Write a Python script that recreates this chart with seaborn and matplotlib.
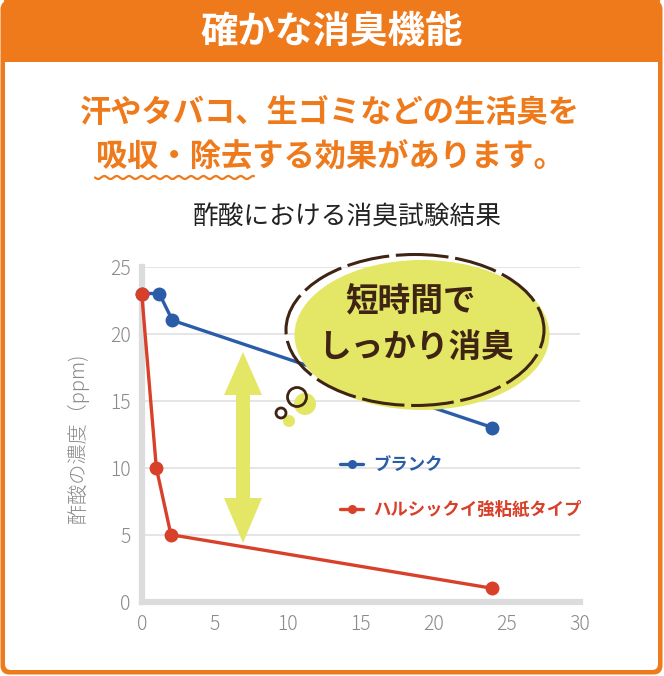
import numpy as np
import pandas as pd
import matplotlib
matplotlib.use("Agg")
import matplotlib.pyplot as plt
import matplotlib.patches as mpatches
import matplotlib.transforms as mtransforms
from matplotlib.lines import Line2D
import seaborn as sns

# ---------------- data ----------------
series_names = ["ブランク", "ハルシックイ強粘紙タイプ"]
blank_hours = [0, 1.2, 2.1, 24]
blank_ppm = [23, 23, 21, 13]
hs_hours = [0, 1, 2, 24]
hs_ppm = [23, 10, 5, 1]
x_ticks = [0, 5, 10, 15, 20, 25, 30]
y_ticks = [0, 5, 10, 15, 20, 25]
title_text = "確かな消臭機能"
subtitle_lines = ["汗やタバコ、生ゴミなどの生活臭を", "吸収・除去する効果があります。"]
chart_title = "酢酸における消臭試験結果"
ylabel_text = "酢酸の濃度（ppm)"
bubble_lines = ["短時間で", "しっかり消臭"]

df = pd.DataFrame({
    "hours": blank_hours + hs_hours,
    "ppm": blank_ppm + hs_ppm,
    "series": [series_names[0]] * len(blank_hours) + [series_names[1]] * len(hs_hours),
})

# ---------------- style ----------------
sns.set_style("white")
plt.rcParams["font.family"] = ["Noto Sans CJK JP", "DejaVu Sans"]

ORANGE = "#ee7a1c"
BLUE = "#2b5ca8"
RED = "#d9402a"
YELLOW = "#e4e766"
BROWN = "#3f2414"
GRAY = "#8a8a8a"

W, H = 664, 676
fig = plt.figure(figsize=(W / 100, H / 100), dpi=100)
fig.patch.set_facecolor("white")
px = mtransforms.Affine2D().scale(1 / W, -1 / H).translate(0, 1) + fig.transFigure

# frame
outer = mpatches.FancyBboxPatch((0.5, 0.5), 662, 674, boxstyle="round,pad=0,rounding_size=9",
                                transform=px, facecolor=ORANGE, edgecolor="none", zorder=-3)
inner = mpatches.FancyBboxPatch((5, 50), 653, 620, boxstyle="round,pad=0,rounding_size=6",
                                transform=px, facecolor="white", edgecolor="none", zorder=-2)
header = mpatches.Rectangle((4, 0), 656, 62, transform=px, facecolor=ORANGE,
                            edgecolor="none", zorder=-1)
for p in (outer, inner, header):
    fig.add_artist(p)

fig.text(332, 31, title_text, transform=px, ha="center", va="center", color="white",
         fontsize=27, fontweight="bold")
fig.text(330, 113, subtitle_lines[0], transform=px, ha="center", va="center", color=ORANGE,
         fontsize=22.5, fontweight="bold")
fig.text(330, 158, subtitle_lines[1], transform=px, ha="center", va="center", color=ORANGE,
         fontsize=22.5, fontweight="bold")
# wavy underline
wx = np.linspace(95, 254, 400)
wy = 177.5 + 1.5 * np.sin((wx - 95) / 12.4 * 2 * np.pi)
fig.add_artist(Line2D(wx, wy, transform=px, color=ORANGE, lw=1.6))

fig.text(347, 218, chart_title, transform=px, ha="center", va="center", color="#222222",
         fontsize=18.5)

# ---------------- axes ----------------
x0, x1 = 141.7, 580.0
y0, y1 = 601.7, 266.7
ax = fig.add_axes([x0 / W, 1 - y0 / H, (x1 - x0) / W, (y0 - y1) / H])
ax.set_facecolor("none")

sns.lineplot(data=df, x="hours", y="ppm", hue="series", palette=[BLUE, RED],
             marker="o", markersize=10, markeredgewidth=0, linewidth=2.4,
             ax=ax, clip_on=False, zorder=3, legend=False)

ax.set_xlim(0, 30)
ax.set_ylim(0, 25)
ax.set_xticks(x_ticks)
ax.set_yticks(y_ticks)
ax.set_xticklabels([str(v) for v in x_ticks])
ax.set_yticklabels([str(v) for v in y_ticks])
ax.tick_params(length=0, labelsize=14, labelcolor=GRAY)
ax.tick_params(axis="y", pad=8)
ax.tick_params(axis="x", pad=9)
for lab in ax.get_xticklabels() + ax.get_yticklabels():
    lab.set_fontweight("light")
ax.set_xlabel("")
ax.set_ylabel(ylabel_text, color=GRAY, fontsize=14.5, va="center", fontweight="light")
ax.yaxis.set_label_coords((78 - x0) / (x1 - x0), (y0 - 438) / (y0 - y1))
for s in ("top", "right"):
    ax.spines[s].set_visible(False)
for s in ("left", "bottom"):
    ax.spines[s].set_color("#dcdcdc")
    ax.spines[s].set_linewidth(4.5)
ax.yaxis.grid(True, color="#e0e0e0", lw=1.2)
ax.xaxis.grid(False)
ax.set_axisbelow(True)

# legend
handles = [Line2D([], [], color=BLUE, lw=2.4, marker="o", markersize=6.5, markeredgewidth=0),
           Line2D([], [], color=RED, lw=2.4, marker="o", markersize=6.5, markeredgewidth=0)]
leg = ax.legend(handles, series_names, loc="upper left",
                bbox_to_anchor=((340 - x0) / (x1 - x0), (y0 - 456) / (y0 - y1)),
                frameon=False, borderpad=0, borderaxespad=0, handlelength=1.35,
                handletextpad=0.55, labelspacing=1.55,
                prop={"size": 12.5, "weight": "bold"}, labelcolor=[BLUE, RED])
leg.set_zorder(4)

# double arrow (decoration)
ax_ = 243
arrow_pts = [(ax_, 352), (ax_ + 19, 395), (ax_ + 7, 395), (ax_ + 7, 498), (ax_ + 19, 498),
             (ax_, 543), (ax_ - 19, 498), (ax_ - 7, 498), (ax_ - 7, 395), (ax_ - 19, 395)]
ax.add_patch(mpatches.Polygon(arrow_pts, closed=True, transform=px, facecolor=YELLOW,
                              edgecolor="none", zorder=2.5, clip_on=False))

# speech bubble
ax.add_patch(mpatches.Ellipse((422, 335), 255, 150, transform=px, facecolor=YELLOW,
                              edgecolor="none", zorder=5, clip_on=False))
ax.add_patch(mpatches.Ellipse((415, 330), 258, 151, transform=px, facecolor="none",
                              edgecolor=BROWN, lw=2.2, linestyle=(3, (14, 2.2)),
                              zorder=6, clip_on=False))
ax.add_patch(mpatches.Circle((305, 404), 11, transform=px, facecolor=YELLOW,
                             edgecolor="none", zorder=5, clip_on=False))
ax.add_patch(mpatches.Circle((289, 421), 6, transform=px, facecolor=YELLOW,
                             edgecolor="none", zorder=5, clip_on=False))
ax.add_patch(mpatches.Circle((297, 397), 9.5, transform=px, facecolor="none",
                             edgecolor=BROWN, lw=2.0, zorder=6, clip_on=False))
ax.add_patch(mpatches.Circle((281, 413), 5, transform=px, facecolor="none",
                             edgecolor=BROWN, lw=2.0, zorder=6, clip_on=False))
fig.text(411, 302, bubble_lines[0], transform=px, ha="center", va="center", color=BROWN,
         fontsize=23.5, fontweight="bold", zorder=7)
fig.text(416, 347, bubble_lines[1], transform=px, ha="center", va="center", color=BROWN,
         fontsize=23.5, fontweight="bold", zorder=7)

fig.savefig("out.png", dpi=100)
